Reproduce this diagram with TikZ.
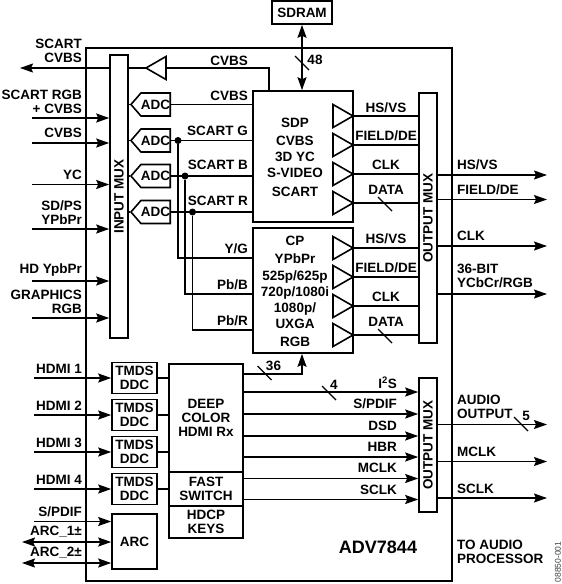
\documentclass[tikz,border=0pt]{standalone}
\usepackage{fontspec}
\setmainfont{Liberation Sans}
\usetikzlibrary{arrows.meta,shapes.geometric,shapes.symbols}

\begin{document}
\begin{tikzpicture}[
      x=1pt, y=-1pt,
      >={Stealth[length=13pt,width=9pt,inset=2pt]},
      font=\bfseries\fontsize{13.5}{14}\selectfont,
      wire/.style={line width=1.5pt},
      flow/.style={wire, ->},
      chipbox/.style={draw, line width=2pt, inner sep=0pt},
      block/.style={draw, line width=1.6pt, fill=white, inner sep=0pt, align=center},
      tmds/.style={block, minimum width=45pt, minimum height=31pt},
      adc/.style={block, signal, signal to=west, signal pointer angle=98,
        minimum width=38pt, minimum height=23pt, anchor=east},
      buffer/.style={draw, line width=1.6pt, fill=white, inner sep=0pt, outer sep=0pt,
        isosceles triangle, isosceles triangle stretches,
        minimum width=23pt, minimum height=20pt, anchor=apex},
      joint/.style={circle, fill=black, inner sep=0pt, minimum size=7pt},
      busmark/.style={line width=1.3pt},
      rlabel/.style={anchor=east, align=right, inner sep=0pt},
      llabel/.style={anchor=west, align=left, inner sep=0pt},
      clabel/.style={align=center, inner sep=0pt}
    ]
    \useasboundingbox (0,0) rectangle (562,584);

    % Chip outline
    \node[chipbox, minimum width=366pt, minimum height=533pt] (chip) at (269,314.5) {};
    \node[font=\bfseries\fontsize{18}{20}\selectfont] (partno) at (378,547) {ADV7844};
    \node[font=\fontsize{8.5}{10}\selectfont, text=black!75, rotate=90] (figno) at (558,562) {08850-001};

    % Blocks
    \node[block, minimum width=18pt, minimum height=283pt] (inmux) at (119,196.5) {\rotatebox{90}{INPUT MUX}};
    \node[block, minimum width=100pt, minimum height=131pt] (sdp) at (303,156.5) {};
    \node[block, minimum width=100pt, minimum height=125pt] (cp) at (303,290.5) {};
    \node[block, minimum width=18pt, minimum height=250pt] (outmux) at (428,218) {\rotatebox{90}{OUTPUT MUX}};
    \node[block, minimum width=18pt, minimum height=134pt] (audmux) at (428,445) {\rotatebox{90}{OUTPUT MUX}};
    \node[block, minimum width=60pt, minimum height=23pt] (sdram) at (302,12.5) {SDRAM};
    \node[clabel] (sdptext) at (295,157) {SDP\\[4pt]CVBS\\[2pt]3D YC\\[2pt]S-VIDEO\\[5pt]SCART};
    \node[clabel] (cptext) at (295,291) {CP\\[4pt]YPbPr\\[3pt]525p/625p\\[2pt]720p/1080i\\[2pt]1080p/\\[2pt]UXGA\\[4pt]RGB};

    % HDMI receiver
    \node[block, minimum width=74pt, minimum height=108pt] (rx) at (206,418) {DEEP\\COLOR\\HDMI Rx};
    \node[block, minimum width=74pt, minimum height=34pt] (fast) at (206,489) {FAST\\SWITCH};
    \node[block, minimum width=74pt, minimum height=32pt] (hdcp) at (206,522) {HDCP\\KEYS};
    \node[tmds] (tmdsa) at (134.5,378) {TMDS\\DDC};
    \node[tmds] (tmdsb) at (134.5,415) {TMDS\\DDC};
    \node[tmds] (tmdsc) at (134.5,452) {TMDS\\DDC};
    \node[tmds] (tmdsd) at (134.5,489) {TMDS\\DDC};
    \node[block, minimum width=45pt, minimum height=55pt] (arc) at (134.5,541.5) {ARC};
    \draw[wire] (tmdsa.east) -- (tmdsa.east -| rx.west);
    \draw[wire] (tmdsb.east) -- (tmdsb.east -| rx.west);
    \draw[wire] (tmdsc.east) -- (tmdsc.east -| rx.west);
    \draw[wire] (tmdsd.east) -- (tmdsd.east -| fast.west);

    % ADCs
    \node[adc] (adca) at (171,104.5) {ADC};
    \node[adc] (adcb) at (171,140.5) {ADC};
    \node[adc] (adcc) at (171,176) {ADC};
    \node[adc] (adcd) at (171,212) {ADC};
    \draw[wire] (adca.east) -- (adca.east -| sdp.west);
    \draw[wire] (adcb.east) -- (adcb.east -| sdp.west);
    \draw[wire] (adcc.east) -- (adcc.east -| sdp.west);
    \draw[wire] (adcd.east) -- (adcd.east -| sdp.west);
    \draw[wire] (adca.west) -- (adca.west -| inmux.east);
    \draw[wire] (adcb.west) -- (adcb.west -| inmux.east);
    \draw[wire] (adcc.west) -- (adcc.west -| inmux.east);
    \draw[wire] (adcd.west) -- (adcd.west -| inmux.east);
    \node[rlabel] (lcvbsb) at (248,96) {CVBS};
    \node[rlabel] (lscartg) at (248,131) {SCART G};
    \node[rlabel] (lscartb) at (248,165) {SCART B};
    \node[rlabel] (lscartr) at (248,201) {SCART R};

    % SCART taps into CP
    \node[joint] (dotg) at (178,140.5) {};
    \node[joint] (dotb) at (185,176) {};
    \node[joint] (dotr) at (192.5,212) {};
    \coordinate (tapg) at (178,258);
    \coordinate (tapb) at (185,294);
    \coordinate (tapr) at (192.5,330);
    \draw[wire] (dotg) -- (tapg) -- (tapg -| cp.west);
    \draw[wire] (dotb) -- (tapb) -- (tapb -| cp.west);
    \draw[wire] (dotr) -- (tapr) -- (tapr -| cp.west);
    \node[rlabel] (lyg) at (248,249) {Y/G};
    \node[rlabel] (lpbb) at (248,285) {Pb/B};
    \node[rlabel] (lpbr) at (248,321) {Pb/R};

    % Buffer back to input mux
    \node[buffer, shape border rotate=180] (bufout) at (146,68) {};
    \coordinate (cvbstap) at (269,68);
    \draw[wire] (bufout.lower side) -- (cvbstap) -- (cvbstap |- sdp.north);
    \draw[wire] (bufout.apex) -- (bufout.apex -| inmux.east);
    \node[rlabel] (lcvbsa) at (248,61) {CVBS};

    % SDRAM bus
    \draw[wire, <->] (sdram.south) -- (sdram.south |- sdp.north);
    \draw[busmark] (302,63) +(-7,-7) -- +(7,7);
    \node[clabel] (lbusa) at (315,60) {48};

    % SDP drivers
    \node[buffer] (sdpa) at (353,116) {};
    \node[buffer] (sdpb) at (353,145) {};
    \node[buffer] (sdpc) at (353,174) {};
    \node[buffer] (sdpd) at (353,203) {};
    \draw[wire] (sdpa.apex) -- (sdpa.apex -| outmux.west);
    \draw[wire] (sdpb.apex) -- (sdpb.apex -| outmux.west);
    \draw[wire] (sdpc.apex) -- (sdpc.apex -| outmux.west);
    \draw[wire] (sdpd.apex) -- (sdpd.apex -| outmux.west);
    \draw[busmark] (385,204) +(-7,-7) -- +(7,7);
    \node[clabel] (lsdpa) at (386,108) {HS/VS};
    \node[clabel] (lsdpb) at (386,136) {FIELD/DE};
    \node[clabel] (lsdpc) at (386,165) {CLK};
    \node[clabel] (lsdpd) at (386,190) {DATA};

    % CP drivers
    \node[buffer] (cpa) at (353,248) {};
    \node[buffer] (cpb) at (353,277) {};
    \node[buffer] (cpc) at (353,306) {};
    \node[buffer] (cpd) at (353,335) {};
    \draw[wire] (cpa.apex) -- (cpa.apex -| outmux.west);
    \draw[wire] (cpb.apex) -- (cpb.apex -| outmux.west);
    \draw[wire] (cpc.apex) -- (cpc.apex -| outmux.west);
    \draw[wire] (cpd.apex) -- (cpd.apex -| outmux.west);
    \draw[busmark] (385,336) +(-7,-7) -- +(7,7);
    \node[clabel] (lcpa) at (386,239) {HS/VS};
    \node[clabel] (lcpb) at (386,268) {FIELD/DE};
    \node[clabel] (lcpc) at (386,297) {CLK};
    \node[clabel] (lcpd) at (386,322) {DATA};

    % Video outputs
    \coordinate (outa) at (547,175);
    \coordinate (outb) at (547,199.5);
    \coordinate (outc) at (547,246);
    \coordinate (outd) at (547,294);
    \draw[flow] (outa -| outmux.east) -- (outa);
    \draw[flow] (outb -| outmux.east) -- (outb);
    \draw[flow] (outc -| outmux.east) -- (outc);
    \draw[flow] (outd -| outmux.east) -- (outd);
    \node[llabel] (lout1) at (457,165) {HS/VS};
    \node[llabel] (lout2) at (457,190) {FIELD/DE};
    \node[llabel] (lout3) at (457,236) {CLK};
    \node[llabel] (lout4) at (457,276) {36-BIT\\YCbCr/RGB};

    % Analog inputs
    \coordinate (scartout) at (20,68);
    \coordinate (ina) at (32,118);
    \coordinate (inb) at (32,143);
    \coordinate (inc) at (32,184.5);
    \coordinate (ind) at (32,229);
    \coordinate (ine) at (32,281);
    \coordinate (inf) at (32,318);
    \draw[flow] (scartout -| inmux.west) -- (scartout);
    \draw[flow] (ina) -- (ina -| inmux.west);
    \draw[flow] (inb) -- (inb -| inmux.west);
    \draw[flow] (inc) -- (inc -| inmux.west);
    \draw[flow] (ind) -- (ind -| inmux.west);
    \draw[flow] (ine) -- (ine -| inmux.west);
    \draw[flow] (inf) -- (inf -| inmux.west);
    \node[rlabel] (lin0) at (82,51) {SCART\\CVBS};
    \node[rlabel] (lin1) at (82,102) {SCART RGB\\+ CVBS};
    \node[rlabel] (lin2) at (82,133) {CVBS};
    \node[rlabel] (lin3) at (82,175) {YC};
    \node[rlabel] (lin4) at (82,213) {SD/PS\\YPbPr};
    \node[rlabel] (lin5) at (82,270) {HD YpbPr};
    \node[rlabel] (lin6) at (82,302) {GRAPHICS\\RGB};

    % HDMI inputs
    \coordinate (hdmia) at (34,378);
    \coordinate (hdmib) at (34,415);
    \coordinate (hdmic) at (34,452);
    \coordinate (hdmid) at (34,489);
    \coordinate (spdif) at (34,521.5);
    \coordinate (arca) at (22,542);
    \coordinate (arcb) at (22,563);
    \draw[flow] (hdmia) -- (hdmia -| tmdsa.west);
    \draw[flow] (hdmib) -- (hdmib -| tmdsb.west);
    \draw[flow] (hdmic) -- (hdmic -| tmdsc.west);
    \draw[flow] (hdmid) -- (hdmid -| tmdsd.west);
    \draw[flow] (spdif) -- (spdif -| arc.west);
    \draw[wire, <->] (arca) -- (arca -| arc.west);
    \draw[wire, <->] (arcb) -- (arcb -| arc.west);
    \node[rlabel] (lhdmia) at (82,369) {HDMI 1};
    \node[rlabel] (lhdmib) at (82,406) {HDMI 2};
    \node[rlabel] (lhdmic) at (82,443) {HDMI 3};
    \node[rlabel] (lhdmid) at (82,480) {HDMI 4};
    \node[rlabel] (lspdif) at (82,512) {S/PDIF};
    \node[rlabel] (larca) at (82,532) {ARC\_1±};
    \node[rlabel] (larcb) at (82,553) {ARC\_2±};

    % HDMI to CP
    \coordinate (busup) at (302,374);
    \draw[wire, ->] (busup -| rx.east) -- (busup) -- (busup |- cp.south);
    \draw[busmark] (264.5,373) +(-7,-7) -- +(7,7);
    \node[clabel] (lbusb) at (273.5,366) {36};

    % Audio
    \coordinate (auda) at (243,392);
    \coordinate (audb) at (243,414);
    \coordinate (audc) at (243,436);
    \coordinate (audd) at (243,457);
    \coordinate (aude) at (243,478.5);
    \coordinate (audf) at (243,499.5);
    \draw[flow] (auda) -- (auda -| audmux.west);
    \draw[flow] (audb) -- (audb -| audmux.west);
    \draw[flow] (audc) -- (audc -| audmux.west);
    \draw[flow] (audd) -- (audd -| audmux.west);
    \draw[flow] (aude) -- (aude -| audmux.west);
    \draw[flow] (audf) -- (audf -| audmux.west);
    \draw[busmark] (329,393) +(-7,-7) -- +(7,7);
    \node[clabel] (lbusc) at (334,385) {4};
    \node[rlabel] (laud1) at (397,383) {I\textsuperscript{2}S};
    \node[rlabel] (laud2) at (397,404) {S/PDIF};
    \node[rlabel] (laud3) at (397,426) {DSD};
    \node[rlabel] (laud4) at (397,447) {HBR};
    \node[rlabel] (laud5) at (397,468) {MCLK};
    \node[rlabel] (laud6) at (397,490) {SCLK};

    % Audio outputs
    \coordinate (aoa) at (547,424.5);
    \coordinate (aob) at (547,461.5);
    \coordinate (aoc) at (547,498);
    \draw[flow] (aoa -| audmux.east) -- (aoa);
    \draw[flow] (aob -| audmux.east) -- (aob);
    \draw[flow] (aoc -| audmux.east) -- (aoc);
    \draw[busmark] (521,424) +(-7,-7) -- +(7,7);
    \node[clabel] (lbusd) at (526,416) {5};
    \node[llabel] (laoa) at (457,407) {AUDIO\\OUTPUT};
    \node[llabel] (laob) at (457,452) {MCLK};
    \node[llabel] (laoc) at (457,489) {SCLK};
    \node[llabel] (lproc) at (457,551.5) {TO AUDIO\\PROCESSOR};
  \end{tikzpicture}
\end{document}
